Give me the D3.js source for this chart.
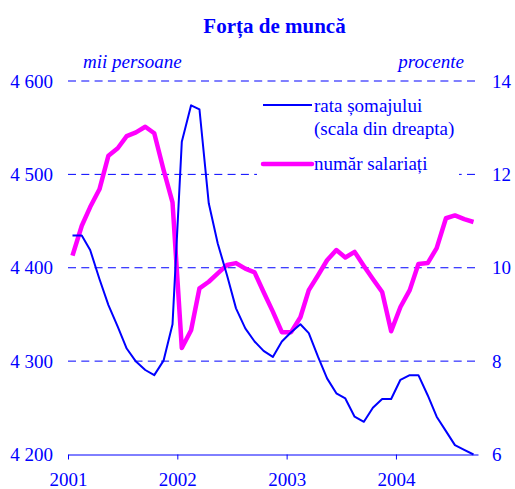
<!DOCTYPE html>
<html>
<head>
<meta charset="utf-8">
<script src="https://cdn.jsdelivr.net/npm/d3@7"></script>
<style>
  body { margin: 0; background: #fff; }
  svg { font-family: "Liberation Serif", "Times New Roman", serif; }
</style>
</head>
<body>
<div id="chart"></div>
<script>
// monthly data, Jan 2001 - Sep 2004
let salariati = [4413, 4445, 4465, 4484, 4520, 4528, 4541, 4545, 4551, 4544, 4505, 4470,
                 4314, 4333, 4378, 4385, 4394, 4403, 4405, 4399, 4395, 4374, 4353, 4331,
                 4331, 4347, 4376, 4392, 4408, 4419, 4411, 4417, 4402, 4388, 4374, 4332,
                 4358, 4376, 4404, 4405, 4421, 4453, 4456, 4452, 4449];
let somaj = [10.69, 10.69, 10.38, 9.76, 9.20, 8.74, 8.27, 7.99, 7.81, 7.70, 8.01, 8.79,
             12.70, 13.48, 13.39, 11.38, 10.52, 9.84, 9.13, 8.70, 8.42, 8.22, 8.09, 8.42,
             8.62, 8.79, 8.60, 8.09, 7.63, 7.31, 7.20, 6.81, 6.70, 7.00, 7.19, 7.19,
             7.60, 7.70, 7.70, 7.27, 6.81, 6.50, 6.20, 6.10, 6.00];
let years = [2001, 2002, 2003, 2004];
let leftTicks = [4200, 4300, 4400, 4500, 4600];
let rightTicks = [6, 8, 10, 12, 14];

let months = salariati.map((d, i) => new Date(2001, i, 16));

let svgWidth = 515;
let svgHeight = 489;
let blue = "#0000ff";
let magenta = "#ff00ff";

let svg = d3.select("#chart")
  .append("svg")
  .attr("width", svgWidth)
  .attr("height", svgHeight);

let x = d3.scaleTime()
  .domain([new Date(2001, 0, 1), new Date(2004, 9, 1)])
  .range([68, 478]);

let yLeft = d3.scaleLinear()
  .domain([4200, 4600])
  .range([454.5, 81]);

let yRight = d3.scaleLinear()
  .domain([6, 14])
  .range([454.5, 81]);

// title
svg.append("text")
  .attr("x", 274.5)
  .attr("y", 33)
  .attr("text-anchor", "middle")
  .style("font-size", "21px")
  .style("font-weight", "bold")
  .style("fill", blue)
  .text("Forța de muncă");

svg.append("text")
  .attr("x", 83)
  .attr("y", 68)
  .style("font-size", "19px")
  .style("font-style", "italic")
  .style("fill", blue)
  .text("mii persoane");

svg.append("text")
  .attr("x", 464)
  .attr("y", 68)
  .attr("text-anchor", "end")
  .style("font-size", "19px")
  .style("font-style", "italic")
  .style("fill", blue)
  .text("procente");

// gridlines
svg.append("g")
  .selectAll("line")
  .data(leftTicks.slice(1))
  .enter()
  .append("line")
  .attr("x1", 68)
  .attr("x2", 476)
  .attr("y1", d => yLeft(d))
  .attr("y2", d => yLeft(d))
  .style("stroke", blue)
  .style("stroke-width", 1)
  .style("stroke-dasharray", "8,5.3");

// axes
let fmt = d => d3.format(",")(d).replace(",", " ");

let leftAxis = svg.append("g")
  .attr("transform", "translate(68,0)")
  .call(d3.axisLeft(yLeft).tickValues(leftTicks).tickSize(0).tickPadding(15).tickFormat(fmt));

let rightAxis = svg.append("g")
  .attr("transform", "translate(478,0)")
  .call(d3.axisRight(yRight).tickValues(rightTicks).tickSize(0).tickPadding(14));

let bottomAxis = svg.append("g")
  .attr("transform", "translate(0,454.5)")
  .call(d3.axisBottom(x)
    .tickValues(years.map(d => new Date(d, 0, 1)))
    .tickSize(5)
    .tickSizeOuter(0)
    .tickPadding(13)
    .tickFormat(d3.timeFormat("%Y")));

[leftAxis, rightAxis].forEach(a => a.select(".domain").remove());

[leftAxis, rightAxis, bottomAxis].forEach(a => {
  a.selectAll("text")
    .style("font-family", "Liberation Serif, serif")
    .style("font-size", "19px")
    .style("fill", blue);
  a.selectAll("line").style("stroke", blue);
  a.select(".domain").style("stroke", blue);
});

// legend box (covers grid)
svg.append("rect")
  .attr("x", 257)
  .attr("y", 90)
  .attr("width", 202)
  .attr("height", 90)
  .style("fill", "#fff");

// lines
let lineSomaj = d3.line()
  .x((d, i) => x(months[i]))
  .y(d => yRight(d));

let lineSal = d3.line()
  .x((d, i) => x(months[i]))
  .y(d => yLeft(d));

svg.append("path")
  .datum(salariati)
  .attr("d", lineSal)
  .style("fill", "none")
  .style("stroke", magenta)
  .style("stroke-width", 4.5)
  .style("stroke-linejoin", "round");

svg.append("path")
  .datum(somaj)
  .attr("d", lineSomaj)
  .style("fill", "none")
  .style("stroke", blue)
  .style("stroke-width", 2)
  .style("stroke-linejoin", "round");

// legend
svg.append("line")
  .attr("x1", 263).attr("x2", 312)
  .attr("y1", 105).attr("y2", 105)
  .style("stroke", blue)
  .style("stroke-width", 2);

svg.append("line")
  .attr("x1", 263).attr("x2", 312)
  .attr("y1", 164).attr("y2", 164)
  .style("stroke", magenta)
  .style("stroke-width", 4.5)
  .style("stroke-linecap", "round");

let legendText = [
  { t: "rata șomajului", y: 112 },
  { t: "(scala din dreapta)", y: 135 },
  { t: "număr salariați", y: 170 }
];

svg.selectAll(".legText")
  .data(legendText)
  .enter()
  .append("text")
  .attr("x", 314)
  .attr("y", d => d.y)
  .style("font-size", "19px")
  .style("fill", blue)
  .text(d => d.t);
</script>
</body>
</html>
